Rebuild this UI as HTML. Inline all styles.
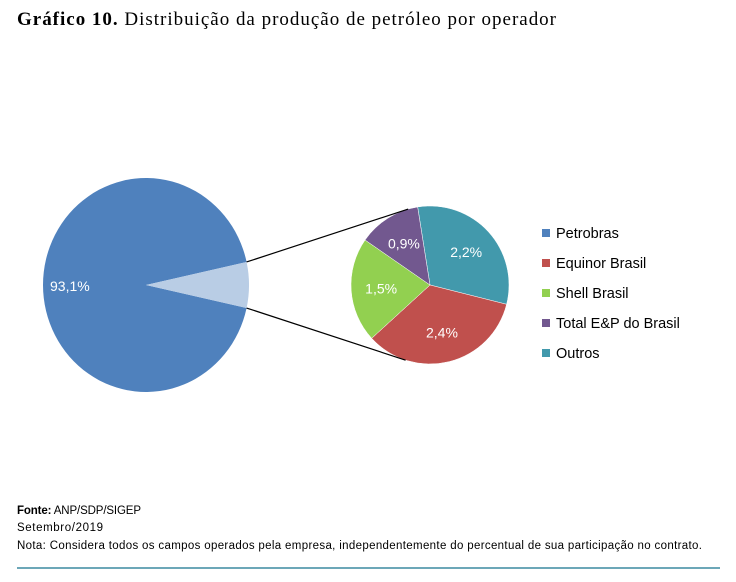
<!DOCTYPE html>
<html><head><meta charset="utf-8"><style>
body{margin:0;background:#fff;width:736px;height:577px;overflow:hidden;font-family:"Liberation Sans",sans-serif}
</style></head><body>
<svg width="736" height="577" xmlns="http://www.w3.org/2000/svg">
<text x="17" y="25" font-family="Liberation Serif,serif" font-size="19" fill="#000" textLength="539" lengthAdjust="spacing"><tspan font-weight="bold">Gráfico 10.</tspan> Distribuição da produção de petróleo por operador</text>
<g id="main"></g>
<g id="sub"></g>
<g id="legend"></g>
<g font-size="11.5" fill="#000">
<text x="17" y="514" textLength="124"><tspan font-weight="bold">Fonte:</tspan> ANP/SDP/SIGEP</text>
<text x="17" y="531" textLength="86">Setembro/2019</text>
<text x="17" y="549" textLength="685">Nota: Considera todos os campos operados pela empresa, independentemente do percentual de sua participação no contrato.</text>
</g>
<line x1="17" y1="568" x2="720" y2="568" stroke="#3c8aa0" stroke-width="1.5"/>
</svg>
<script>
const mainValues=[93.1,6.9];
const mainLabels=["93,1%",""];
const categories=["Petrobras","Equinor Brasil","Shell Brasil","Total E&P do Brasil","Outros"];
const subValues=[2.2,2.4,1.5,0.9];
const subLabels=["2,2%","2,4%","1,5%","0,9%"];
const subNames=["outros","equinor-brasil","shell-brasil","total-ep-do-brasil"];
const subColors=["#4299ac","#c0504d","#92d050","#72588f"];
const legendColors=["#4f81bd","#c0504d","#92d050","#72588f","#4299ac"];
const NS="http://www.w3.org/2000/svg";
function mk(t,a,p){const e=document.createElementNS(NS,t);for(const k in a)e.setAttribute(k,a[k]);p.appendChild(e);return e;}
function pt(cx,cy,rx,ry,deg){const r=deg*Math.PI/180;return [cx+rx*Math.sin(r),cy-ry*Math.cos(r)];}
function arc(cx,cy,rx,ry,a0,a1){const p0=pt(cx,cy,rx,ry,a0),p1=pt(cx,cy,rx,ry,a1);return `M${cx},${cy}L${p0[0]},${p0[1]}A${rx},${ry} 0 ${a1-a0>180?1:0} 1 ${p1[0]},${p1[1]}Z`;}
const mg=document.getElementById('main');
const mt=mainValues.reduce((a,b)=>a+b,0);
const light=mainValues[1]/mt*360;
const mcx=146,mcy=285,mrx=103,mry=107;
let s=90+light/2;
const pb=mk('path',{d:arc(mcx,mcy,mrx,mry,s,s+mainValues[0]/mt*360),fill:'#4f81bd'},mg);


const ls=mk('path',{d:arc(mcx,mcy,mrx,mry,90-light/2,90+light/2),fill:'#b9cde5'},mg);


const ml=mk('text',{x:50,y:291,fill:'#fff','font-size':14},mg);ml.textContent=mainLabels[0];


const sg=document.getElementById('sub');
const st=subValues.reduce((a,b)=>a+b,0);
const scx=430,scy=285,sr=79;
let a=-9;
subValues.forEach((v,i)=>{const sw=v/st*360;
 const p=mk('path',{d:arc(scx,scy,sr,sr,a,a+sw),fill:subColors[i],stroke:'#fff','stroke-width':0.5},sg);
 
 
 const m=pt(scx,scy,sr*0.62,sr*0.62,a+sw/2);
 const t=mk('text',{x:m[0],y:m[1]+5,fill:'#fff','font-size':14,'text-anchor':'middle'},sg);t.textContent=subLabels[i];
 
 
 a+=sw;});
const pu=pt(mcx,mcy,mrx,mry,90-light/2),pl=pt(mcx,mcy,mrx,mry,90+light/2);
const su=pt(scx,scy,sr,sr,-16),sl=pt(scx,scy,sr,sr,198);
const c1=mk('line',{x1:pu[0],y1:pu[1],x2:su[0],y2:su[1],stroke:'#000','stroke-width':1.2},sg);


const c2=mk('line',{x1:pl[0],y1:pl[1],x2:sl[0],y2:sl[1],stroke:'#000','stroke-width':1.2},sg);


const lg=document.getElementById('legend');
categories.forEach((c,i)=>{const y=233+i*30;
 const r=mk('rect',{x:542,y:y-4,width:8,height:8,fill:legendColors[i]},lg);
 
 
 const t=mk('text',{x:556,y:y+5,'font-size':14.5,fill:'#000'},lg);t.textContent=c;
 
 });
</script>
</body></html>
